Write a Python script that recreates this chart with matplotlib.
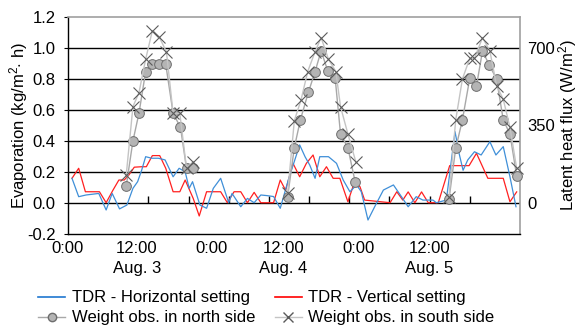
import matplotlib
matplotlib.use('Agg')
import matplotlib.pyplot as plt
from matplotlib.lines import Line2D

plt.rcParams['font.family'] = ['Liberation Sans', 'DejaVu Sans']
plt.rcParams['mathtext.fontset'] = 'custom'
plt.rcParams['mathtext.rm'] = 'Liberation Sans'
plt.rcParams['mathtext.it'] = 'Liberation Sans'

# TDR - horizontal setting (hours from start, kg/m2 h)
blue_h = [0.6, 1.6, 2.7, 4.6, 5.7, 6.6, 7.7, 8.8, 9.7, 10.4, 11.0, 11.6, 12.5, 13.5, 14.5,
          15.7, 16.6, 17.5, 18.1, 18.6, 19.7, 20.7, 21.7, 22.8, 24.0, 24.5, 25.8, 26.8, 27.8,
          28.8, 29.7, 30.7, 31.7, 32.9, 34.6, 35.4, 36.1, 36.9, 37.6, 38.9, 40.1, 41.1, 42.1,
          43.1, 43.8, 44.8, 45.8, 47.1, 48.6, 49.8, 50.8, 52.0, 53.0, 54.5, 55.0, 56.5, 57.8,
          58.4, 59.0, 59.7, 60.7, 61.7, 63.0, 63.9, 65.0, 66.0, 66.9]
blue_v = [0.158, 0.039, 0.05, 0.06, -0.047, 0.06, -0.04, -0.015, 0.093, 0.136, 0.21, 0.298,
          0.288, 0.288, 0.277, 0.168, 0.223, 0.2, 0.093, 0.136, -0.015, -0.036, 0.093, 0.158,
          0.0, 0.06, -0.026, 0.028, 0.0, 0.05, 0.046, 0.04, -0.036, 0.147, 0.374, 0.298, 0.244,
          0.158, 0.298, 0.298, 0.255, 0.147, 0.071, 0.115, 0.071, -0.112, -0.026, 0.082, 0.115,
          0.039, -0.026, 0.039, 0.017, 0.017, 0.0, 0.017, 0.46, 0.32, 0.21, 0.277, 0.33, 0.309,
          0.395, 0.309, 0.363, 0.168, -0.026]

# TDR - vertical setting
red_h = [0.6, 1.6, 2.6, 4.7, 5.7, 6.7, 7.6, 8.4, 9.1, 9.9, 11.0, 11.7, 12.6, 13.7, 14.6, 15.7,
         16.7, 17.5, 18.7, 19.6, 20.7, 22.1, 22.8, 23.8, 24.8, 25.8, 26.8, 27.8, 28.8, 30.7,
         31.7, 32.5, 33.6, 34.6, 35.6, 36.6, 37.6, 38.6, 39.6, 40.6, 41.8, 42.8, 43.6, 44.3,
         48.1, 49.1, 50.0, 50.8, 51.8, 52.8, 53.8, 55.3, 57.0, 59.9, 61.0, 62.7, 65.0, 66.0, 67.0]
red_v = [0.158, 0.223, 0.071, 0.071, 0.0, 0.08, 0.147, 0.147, 0.18, 0.23, 0.233, 0.233, 0.305,
         0.305, 0.223, 0.071, 0.071, 0.147, 0.028, -0.086, 0.071, 0.071, 0.071, 0.0, 0.071,
         0.071, 0.0, 0.067, 0.0, 0.0, 0.147, 0.08, 0.255, 0.168, 0.255, 0.309, 0.168, 0.233,
         0.158, 0.158, 0.006, 0.136, 0.104, 0.017, 0.0, 0.071, 0.017, 0.07, 0.0, 0.07, 0.0, 0.0,
         0.24, 0.24, 0.32, 0.158, 0.158, 0.006, 0.07]

# weight observations, north side (one list per day)
north_h1 = [8.7, 9.7, 10.6, 11.6, 12.6, 13.6, 14.6, 15.7, 16.8, 17.7, 18.6]
north_v1 = [0.108, 0.40, 0.579, 0.849, 0.896, 0.896, 0.896, 0.579, 0.488, 0.223, 0.223]
north_h2 = [32.8, 33.8, 34.7, 35.9, 36.9, 37.8, 38.8, 39.9, 40.7, 41.8, 42.9]
north_v2 = [0.039, 0.356, 0.536, 0.715, 0.849, 0.983, 0.853, 0.806, 0.445, 0.356, 0.132]
north_h3 = [56.9, 57.9, 58.9, 60.0, 61.0, 61.9, 62.9, 64.0, 65.0, 66.0, 67.0]
north_v3 = [0.024, 0.352, 0.536, 0.806, 0.756, 0.983, 0.892, 0.801, 0.536, 0.445, 0.175]

# weight observations, south side
south_h1 = [8.7, 9.7, 10.6, 11.6, 12.6, 13.6, 14.7, 15.7, 16.7, 17.7, 18.7]
south_v1 = [0.18, 0.622, 0.712, 0.929, 1.114, 1.075, 0.978, 0.579, 0.579, 0.223, 0.266]
south_h2 = [32.8, 33.8, 34.8, 35.8, 36.9, 37.8, 38.9, 40.0, 40.7, 41.8, 43.0]
south_v2 = [0.06, 0.531, 0.665, 0.849, 0.978, 1.069, 0.929, 0.849, 0.622, 0.445, 0.262]
south_h3 = [56.9, 57.9, 58.9, 60.0, 60.7, 61.9, 63.0, 64.0, 65.0, 66.0, 67.0]
south_v3 = [0.039, 0.536, 0.801, 0.935, 0.935, 1.069, 0.983, 0.758, 0.67, 0.488, 0.223]

time_labels = ['0:00', '12:00\nAug. 3', '0:00', '12:00\nAug. 4', '0:00', '12:00\nAug. 5']
time_label_pos = [0.0, 10.3, 21.5, 32.2, 43.4, 54.0]
left_ticks = [-0.2, 0.0, 0.2, 0.4, 0.6, 0.8, 1.0, 1.2]
right_ticks = [0, 350, 700]
flux_per_evap = 700.0

fig = plt.figure(figsize=(5.79, 3.33), dpi=100)
ax = fig.add_axes([0.1174, 0.2985, 0.7807, 0.6493])

blue = '#3f8fd8'
red = '#ff2020'
ax.plot(red_h, red_v, color=red, lw=0.9, zorder=3)
ax.plot(blue_h, blue_v, color=blue, lw=0.9, zorder=3)

for h, v in [(north_h1, north_v1), (north_h2, north_v2), (north_h3, north_v3)]:
    ax.plot(h, v, color='#a8a8a8', lw=1.0, marker='o', ms=7, mfc='#b4b4b4',
            mec='#6e6e6e', mew=0.7, zorder=4, clip_on=False)
for h, v in [(south_h1, south_v1), (south_h2, south_v2), (south_h3, south_v3)]:
    ax.plot(h, v, color='#c4c4c4', lw=1.0, marker='x', ms=8, mec='#5a5a5a',
            mew=0.8, zorder=5, clip_on=False)

ax.set_xlim(0, 67.5)
ax.set_ylim(-0.2, 1.2)
ax.set_yticks(left_ticks)
ax.set_yticklabels([f'{t:.1f}' for t in left_ticks])
ax.tick_params(axis='y', length=3, width=0.8, pad=6, labelsize=12)
ax.set_xticks(time_label_pos)
ax.set_xticklabels(time_labels, linespacing=1.45)
ax.tick_params(axis='x', length=0, pad=5, labelsize=12)

ax.yaxis.grid(True, color='black', lw=1.0, zorder=1)
gl = ax.get_ygridlines()
gl[0].set_visible(False)
gl[-1].set_visible(False)
ax.set_axisbelow(True)

for s in ['top', 'right']:
    ax.spines[s].set_color('#a0a0a0')
    ax.spines[s].set_linewidth(1.2)
ax.spines['left'].set_linewidth(1.0)
ax.spines['bottom'].set_linewidth(1.0)

ax.set_ylabel('Evaporation (kg/m$^2$$\\cdot$ h)', fontsize=12)
ax.yaxis.set_label_coords(-0.085, 0.5)

# tick marks sitting on the zero line
zero_frac = (0 - (-0.2)) / 1.4
sec = ax.secondary_xaxis(zero_frac)
sec.set_xticks(list(range(12, 61, 6)))
sec.tick_params(axis='x', direction='in', length=5, width=1.0, labelbottom=False,
                labeltop=False, top=False, bottom=True)
sec.spines['bottom'].set_visible(False)
sec.spines['top'].set_visible(False)

ax2 = ax.twinx()
ax2.set_ylim(-0.2 * flux_per_evap, 1.2 * flux_per_evap)
ax2.set_yticks(right_ticks)
ax2.set_yticklabels([str(t) for t in right_ticks])
ax2.tick_params(axis='y', length=0, pad=5, labelsize=12)
for s in ax2.spines.values():
    s.set_visible(False)
ax2.set_ylabel('Latent heat flux (W/m$^2$)', fontsize=12)
ax2.yaxis.set_label_coords(1.08, 0.5)

handles = [
    Line2D([], [], color='#1f77d0', lw=1.2),
    Line2D([], [], color='#a8a8a8', lw=1.0, marker='o', ms=6, mfc='#b4b4b4', mec='#6e6e6e'),
    Line2D([], [], color='#ff0000', lw=1.2),
    Line2D([], [], color='#c4c4c4', lw=1.0, marker='x', ms=7, mec='#5a5a5a'),
]
labels = ['TDR - Horizontal setting', 'Weight obs. in north side',
          'TDR - Vertical setting', 'Weight obs. in south side']
fig.legend(handles, labels, ncol=2, loc='upper left', bbox_to_anchor=(0.066, 0.128),
           frameon=False, fontsize=12, handlelength=1.6, handletextpad=0.4,
           columnspacing=1.2, labelspacing=0.3, borderpad=0, borderaxespad=0)

plt.savefig('out.png', dpi=100)
plt.close()
